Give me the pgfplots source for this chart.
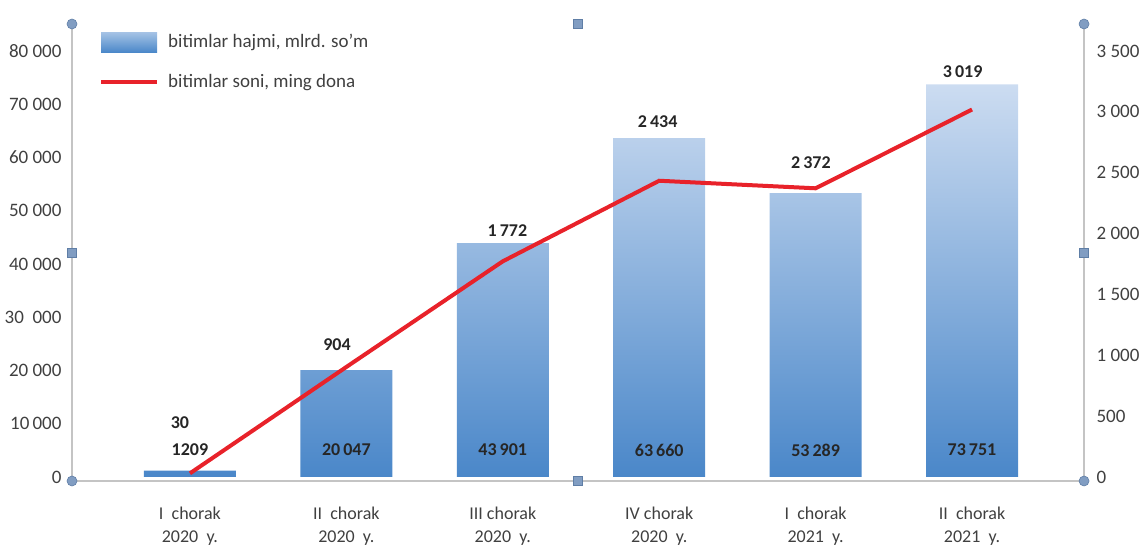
\documentclass[border=0pt]{standalone}
\usepackage{pgfplots}
\pgfplotsset{compat=1.18}
\usepackage{fontspec}
\setmainfont{Carlito}
\definecolor{barTop}{HTML}{CCDCF1}
\definecolor{barBot}{HTML}{4A87C9}
\definecolor{lineRed}{HTML}{E8222A}
\definecolor{axGrey}{HTML}{C4C4C4}
\definecolor{hdl}{HTML}{819DC2}
\definecolor{hdlD}{HTML}{5F7EA6}
\definecolor{txt}{HTML}{404040}
\definecolor{lbl}{HTML}{262626}
\begin{document}
\fontsize{19}{23}\selectfont
\begin{tikzpicture}[x=1pt,y=1pt]
\useasboundingbox (-72,-64) rectangle (1067,481);
% ---------- left axis: bars ----------
\begin{axis}[
  at={(0,0)}, anchor=south west,
  scale only axis, width=1012pt, height=457pt,
  xmin=-0.754, xmax=5.716, ymin=-751, ymax=85070,
  axis x line*=bottom, axis y line*=left,
  axis line style={axGrey, line width=1.6pt},
  clip=false,
  scaled y ticks=false,
  major tick length=0pt,
  xtick={0,1,2,3,4,5},
  xticklabels={{I\ \ chorak\\2020\ \ y.},{II\ \ chorak\\2020\ \ y.},{III chorak\\2020\ \ y.},{IV\ chorak\\2020\ \ y.},{I\ \ chorak\\2021\ \ y.},{II\ \ chorak\\2021\ \ y.}},
  xticklabel style={align=center, text=txt, font=\fontsize{18}{23.5}\selectfont, yshift=-19pt},
  ytick={0,10000,20000,30000,40000,50000,60000,70000,80000},
  yticklabels={0,10\,000,20 000,30\ \ 000,40 000,50 000,60 000,70 000,80 000},
  yticklabel style={text=txt, xshift=-4pt},
]
\addplot[ybar, bar width=92pt, draw=none, top color=barTop, bottom color=barBot]
  coordinates {(0,1209) (1,20047) (2,43901) (3,63660) (4,53289) (5,73751)};
% bar value labels
\addplot[draw=none, mark=none, nodes near coords, point meta=explicit symbolic,
  every node near coord/.append style={anchor=center, text=lbl, font=\fontsize{18}{22}\selectfont\bfseries}]
  coordinates {(0,5070)[1209] (1,5070)[20\,047] (2,5070)[43\,901] (3,5070)[63\,660] (4,5070)[53\,289] (5,5070)[73\,751]};
% line value labels
\addplot[draw=none, mark=none, nodes near coords, point meta=explicit symbolic,
  every node near coord/.append style={anchor=center, text=lbl, font=\fontsize{18}{22}\selectfont\bfseries}]
  coordinates {(-0.064,10141)[30] (0.94,24789)[904] (2.03,46197)[1\,772] (2.99,66667)[2\,434] (3.97,58967)[2\,372] (4.94,76056)[3\,019]};
\end{axis}
% ---------- right axis: line ----------
\begin{axis}[
  at={(0,0)}, anchor=south west,
  scale only axis, width=1012pt, height=457pt,
  xmin=-0.754, xmax=5.716, ymin=-32.9, ymax=3722,
  axis x line=none, axis y line*=right,
  axis line style={axGrey, line width=1.6pt},
  clip=false,
  scaled y ticks=false,
  major tick length=0pt,
  ytick={0,500,1000,1500,2000,2500,3000,3500},
  yticklabels={0,500,1 000,1 500,2 000,2 500,3 000,3 500},
  yticklabel style={text=txt, xshift=6pt},
  legend style={at={(rel axis cs:0,1)}, anchor=north west, xshift=24pt, yshift=-6pt,
    draw=none, fill=none, row sep=20pt, font=\fontsize{19}{23}\selectfont, text=txt,
    nodes={inner xsep=9pt}},
  legend cell align=left,
]
\addlegendimage{legend image code/.code={\fill[draw=none, top color=barTop!70!barBot, bottom color=barBot] (0pt,-10pt) rectangle (56pt,10pt);}}
\addlegendentry{bitimlar hajmi, mlrd. so\textquoteright m}
\addplot[lineRed, line width=4pt, mark=none,
  legend image code/.code={\draw[lineRed, line width=4pt] (0pt,0pt) -- (56pt,0pt);}]
  coordinates {(0,30) (1,904) (2,1772) (3,2434) (4,2372) (5,3019)};
\addlegendentry{bitimlar soni, ming dona}
% selection handles
\addplot[forget plot, only marks, mark=*, mark size=5pt, mark options={fill=hdl, draw=hdlD, line width=0.6pt}]
  coordinates {(-0.754,-32.9) (5.716,-32.9) (-0.754,3722) (5.716,3722)};
\addplot[forget plot, only marks, mark=square*, mark size=4.5pt, mark options={fill=hdl, draw=hdlD, line width=0.6pt}]
  coordinates {(2.481,-32.9) (2.481,3722) (-0.754,1844.6) (5.716,1844.6)};
\end{axis}
\end{tikzpicture}
\end{document}
